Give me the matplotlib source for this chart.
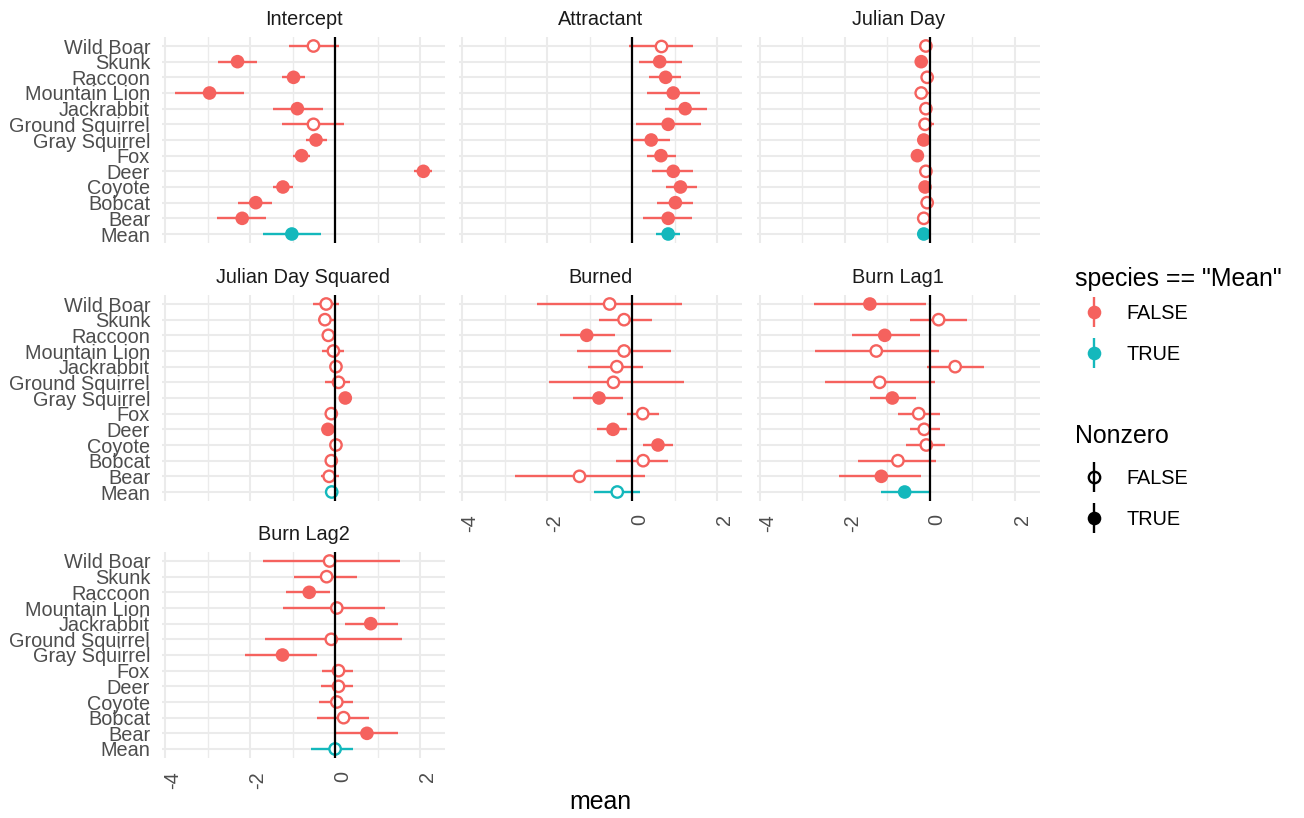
import matplotlib
matplotlib.use("Agg")
import matplotlib.pyplot as plt
import matplotlib.transforms as mtransforms
import numpy as np
from matplotlib.lines import Line2D
from matplotlib.legend_handler import HandlerTuple

plt.rcParams['font.family'] = ['Liberation Sans', 'DejaVu Sans']

# ---------------- data ----------------
species = ["Wild Boar", "Skunk", "Raccoon", "Mountain Lion", "Jackrabbit",
           "Ground Squirrel", "Gray Squirrel", "Fox", "Deer", "Coyote",
           "Bobcat", "Bear", "Mean"]

terms = ["Intercept", "Attractant", "Julian Day", "Julian Day Squared",
         "Burned", "Burn Lag1", "Burn Lag2"]

intercept_mean = [-0.51, -2.30, -0.98, -2.96, -0.89, -0.51, -0.45, -0.79, 2.08, -1.23, -1.87, -2.19, -1.02]
intercept_lo   = [-1.08, -2.75, -1.26, -3.77, -1.46, -1.24, -0.68, -1.00, 1.85, -1.47, -2.28, -2.79, -1.71]
intercept_hi   = [ 0.08, -1.85, -0.71, -2.15, -0.28,  0.21, -0.18, -0.59, 2.29, -1.00, -1.48, -1.63, -0.33]

attractant_mean = [0.68, 0.65, 0.79, 0.97, 1.25, 0.85, 0.45, 0.68, 0.97, 1.14, 1.02, 0.85, 0.85]
attractant_lo   = [-0.07, 0.17, 0.40, 0.36, 0.77, 0.10, 0.02, 0.34, 0.47, 0.79, 0.59, 0.25, 0.56]
attractant_hi   = [1.43, 1.17, 1.15, 1.59, 1.76, 1.62, 0.90, 1.04, 1.43, 1.52, 1.43, 1.41, 1.14]

julian_mean = [-0.09, -0.20, -0.06, -0.20, -0.09, -0.11, -0.14, -0.29, -0.09, -0.11, -0.06, -0.14, -0.14]
julian_lo   = [-0.20, -0.28, -0.16, -0.32, -0.20, -0.25, -0.22, -0.38, -0.20, -0.18, -0.16, -0.25, -0.20]
julian_hi   = [ 0.03, -0.10,  0.05,  0.02,  0.03,  0.10, -0.06, -0.20,  0.04, -0.03,  0.08,  0.02, -0.07]

julian2_mean = [-0.21, -0.24, -0.16, -0.04, 0.02, 0.08, 0.24, -0.09, -0.17, 0.02, -0.09, -0.14, -0.08]
julian2_lo   = [-0.53, -0.40, -0.30, -0.31, -0.12, -0.24, 0.12, -0.22, -0.25, -0.10, -0.20, -0.34, -0.18]
julian2_hi   = [ 0.08,  0.02,  0.02,  0.21,  0.15,  0.35, 0.39,  0.05, -0.08,  0.14,  0.03,  0.10,  0.03]

burned_mean = [-0.53, -0.19, -1.07, -0.19, -0.36, -0.44, -0.78, 0.25, -0.45, 0.61, 0.26, -1.24, -0.35]
burned_lo   = [-2.23, -0.78, -1.69, -1.30, -1.03, -1.96, -1.39, -0.12, -0.83, 0.25, -0.37, -2.77, -0.89]
burned_hi   = [ 1.18,  0.47, -0.41,  0.91,  0.25,  1.23, -0.21, 0.63, -0.12, 0.97, 0.85, 0.31, 0.18]

lag1_mean = [-1.41, 0.21, -1.06, -1.26, 0.60, -1.18, -0.88, -0.26, -0.13, -0.08, -0.75, -1.14, -0.59]
lag1_lo   = [-2.72, -0.47, -1.84, -2.70, -0.06, -2.47, -1.41, -0.75, -0.47, -0.56, -1.70, -2.14, -1.14]
lag1_hi   = [-0.09, 0.89, -0.23, 0.21, 1.28, 0.12, -0.32, 0.24, 0.25, 0.37, 0.14, -0.20, -0.02]

lag2_mean = [-0.13, -0.20, -0.61, 0.04, 0.84, -0.09, -1.24, 0.08, 0.08, 0.04, 0.20, 0.75, 0.00]
lag2_lo   = [-1.71, -0.97, -1.16, -1.22, 0.24, -1.65, -2.12, -0.31, -0.34, -0.37, -0.42, 0.01, -0.57]
lag2_hi   = [ 1.52,  0.51, -0.12, 1.18, 1.48, 1.57, -0.43, 0.43, 0.42, 0.42, 0.81, 1.49, 0.43]

term_data = {
    "Intercept": (intercept_mean, intercept_lo, intercept_hi),
    "Attractant": (attractant_mean, attractant_lo, attractant_hi),
    "Julian Day": (julian_mean, julian_lo, julian_hi),
    "Julian Day Squared": (julian2_mean, julian2_lo, julian2_hi),
    "Burned": (burned_mean, burned_lo, burned_hi),
    "Burn Lag1": (lag1_mean, lag1_lo, lag1_hi),
    "Burn Lag2": (lag2_mean, lag2_lo, lag2_hi),
}

x_major = [-4, -2, 0, 2]
x_minor = [-3, -1, 1]
x_limits = (-4.08, 2.59)

RED = '#F5625E'
TEAL = '#14B8BC'

SMALL = 14.3
BIG = 17.9

# ---------------- layout ----------------
W, H = 1304, 818
fig = plt.figure(figsize=(W / 100, H / 100), dpi=100)
fig.patch.set_facecolor('white')

col_left = [162, 459, 756.6]
row_top = [36.6, 294.6, 551.6]
pw, ph = 283, 206.8

n = len(species)
ypos = np.arange(n)[::-1]  # Wild Boar on top, Mean at bottom
is_mean = np.array([s == "Mean" for s in species])
colors = np.where(is_mean, TEAL, RED)

label_shift = mtransforms.ScaledTranslation(7.5 / 100, 0, fig.dpi_scale_trans)

for k, term in enumerate(terms):
    r, c = divmod(k, 3)
    l, t = col_left[c], row_top[r]
    ax = fig.add_axes([l / W, 1 - (t + ph) / H, pw / W, ph / H])
    m, lo, hi = (np.array(v) for v in term_data[term])
    nonzero = (lo > 0) | (hi < 0)

    ax.set_xlim(*x_limits)
    ax.set_ylim(-0.6, n - 0.4)
    ax.set_xticks(x_major)
    ax.set_xticks(x_minor, minor=True)
    ax.set_yticks(ypos)
    ax.set_yticklabels(species)
    ax.grid(which='major', axis='both', color='#EBEBEB', lw=1.5, zorder=0)
    ax.grid(which='minor', axis='x', color='#EBEBEB', lw=1.0, zorder=0)
    ax.set_axisbelow(True)
    for sp in ax.spines.values():
        sp.set_visible(False)
    ax.tick_params(axis='both', which='both', length=0, labelsize=SMALL,
                   labelcolor='#4D4D4D')
    ax.tick_params(axis='y', pad=8.6)
    ax.tick_params(axis='x', pad=9.0, labelrotation=90)

    show_y = (c == 0)
    show_x = (k + 3 >= len(terms))
    if not show_y:
        ax.set_yticklabels([])
    if not show_x:
        ax.set_xticklabels([])
    else:
        ax.set_xticklabels([str(v) for v in x_major])
        for lab in ax.get_xticklabels():
            lab.set_transform(lab.get_transform() + label_shift)

    ax.hlines(ypos, lo, hi, colors=colors, lw=1.7, zorder=2)
    filled = nonzero
    ax.scatter(m[filled], ypos[filled], s=9.8 ** 2, c=colors[filled],
               marker='o', linewidths=0, zorder=3)
    op = ~nonzero
    ax.scatter(m[op], ypos[op], s=8.2 ** 2, facecolors='white',
               edgecolors=colors[op], marker='o', linewidths=1.7, zorder=3)
    ax.axvline(0, color='black', lw=1.6, zorder=4)

    fig.text((l + pw / 2) / W, 1 - (t - 11.5) / H, term, ha='center',
             va='baseline', fontsize=SMALL, color='#1A1A1A')

fig.text((col_left[0] + col_left[2] + pw) / 2 / W, 1 - 802 / H, 'mean',
         ha='center', va='center', fontsize=BIG, color='black')

# ---------------- legends ----------------
def key(color, open_):
    vline = Line2D([], [], marker='|', markersize=21.6, markeredgewidth=1.7,
                   color=color, linestyle='none')
    if open_:
        pt = Line2D([], [], marker='o', markersize=8.2, markeredgewidth=1.7,
                    markerfacecolor='none', markeredgecolor=color,
                    linestyle='none')
    else:
        pt = Line2D([], [], marker='o', markersize=9.8, markeredgewidth=0,
                    markerfacecolor=color, linestyle='none')
    return (vline, pt)

common = dict(frameon=False, fontsize=SMALL, labelspacing=1.1,
              handlelength=1.5, handletextpad=0.9, borderpad=0,
              borderaxespad=0, loc='center left',
              handler_map={tuple: HandlerTuple(ndivide=1)})

fig.text(1075 / W, 1 - 279 / H, 'species == "Mean"', ha='left', va='center',
         fontsize=BIG, color='black')
fig.legend([key(RED, False), key(TEAL, False)], ['FALSE', 'TRUE'],
           bbox_to_anchor=(1079 / W, 1 - 334 / H), **common)

fig.text(1075 / W, 1 - 436 / H, 'Nonzero', ha='left', va='center',
         fontsize=BIG, color='black')
fig.legend([key('black', True), key('black', False)], ['FALSE', 'TRUE'],
           bbox_to_anchor=(1079 / W, 1 - 499 / H), **common)

fig.savefig('out.png', dpi=100, facecolor='white')
